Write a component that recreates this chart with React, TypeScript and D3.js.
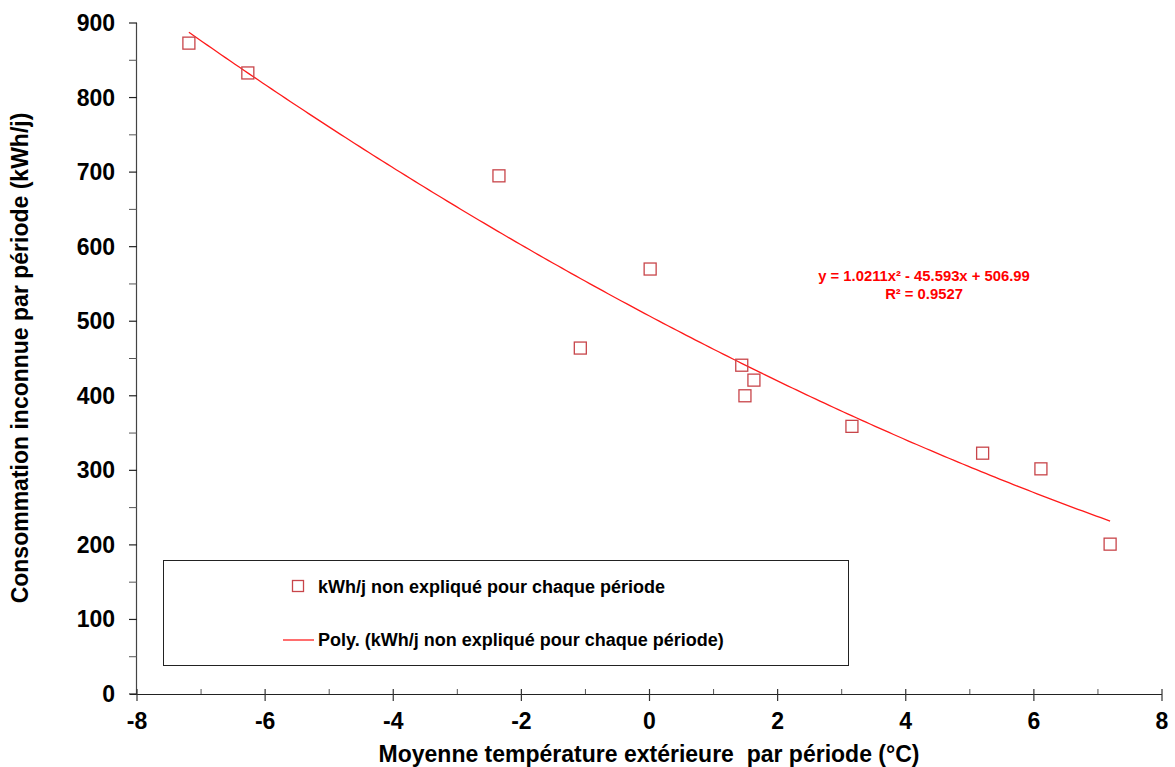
import React from "react";
import * as d3 from "d3";

const tempX = [-7.19, -6.27, -2.35, -1.08, 0.01, 1.44, 1.49, 1.63, 3.16, 5.2, 6.11, 7.19];
const consoY = [873, 833, 695, 464, 570, 441, 400, 421, 359, 323, 302, 201];
const xTicks = [-8, -6, -4, -2, 0, 2, 4, 6, 8];
const xMinor = [-7, -5, -3, -1, 1, 3, 5, 7];
const yTicks = [0, 100, 200, 300, 400, 500, 600, 700, 800, 900];
const yMinor = [50, 150, 250, 350, 450, 550, 650, 750, 850];
const coef = [1.0211, -45.593, 506.99];

const W = 1175, H = 767;
const FONT = "Liberation Sans, Arial, Helvetica, sans-serif";

export default function App() {
  const x = d3.scaleLinear().domain([-8, 8]).range([137, 1162]);
  const y = d3.scaleLinear().domain([0, 900]).range([694, 23]);
  const xMin = d3.min(tempX)!, xMax = d3.max(tempX)!;
  const curvePts: [number, number][] = d3.range(0, 201).map((i) => {
    const t = xMin + ((xMax - xMin) * i) / 200;
    return [t, coef[0] * t * t + coef[1] * t + coef[2]];
  });
  const line = d3.line<[number, number]>().x((d) => x(d[0])).y((d) => y(d[1]));
  const sq = 12;
  const mk = "#c8454a";
  return (
    <svg width={W} height={H} style={{ position: "absolute", left: 0, top: 0, background: "#fff" }} fontFamily={FONT}>
      <rect x={0} y={0} width={W} height={H} fill="#fff" />
      {/* legend box */}
      <rect x={163.5} y={560.5} width={685} height={105} fill="#fff" stroke="#222" strokeWidth={1} />
      <rect x={292.5} y={580.5} width={11} height={11} fill="#fff" stroke={mk} strokeWidth={1.3} />
      <text x={318} y={593} fontSize={18} fontWeight="bold" fill="#000">kWh/j non expliqué pour chaque période</text>
      <line x1={283} x2={314} y1={640} y2={640} stroke="#ff2020" strokeWidth={1.3} />
      <text x={318} y={646} fontSize={18} fontWeight="bold" fill="#000">Poly. (kWh/j non expliqué pour chaque période)</text>
      {/* axes */}
      <line x1={136.5} x2={136.5} y1={23} y2={694} stroke="#444" strokeWidth={1.2} />
      <line x1={130} x2={1162} y1={694.5} y2={694.5} stroke="#222" strokeWidth={1.2} />
      {yTicks.map((t) => (
        <g key={"y" + t}>
          <line x1={129} x2={137} y1={y(t)} y2={y(t)} stroke="#222" strokeWidth={1.2} />
          <text x={115} y={y(t) + 8} fontSize={23} fontWeight="bold" textAnchor="end" fill="#000">{t}</text>
        </g>
      ))}
      {yMinor.map((t) => (
        <line key={"ym" + t} x1={129} x2={137} y1={y(t)} y2={y(t)} stroke="#555" strokeWidth={1} />
      ))}
      {xTicks.map((t) => (
        <g key={"x" + t}>
          <line x1={x(t)} x2={x(t)} y1={689} y2={701} stroke="#333" strokeWidth={1.2} />
          <text x={x(t)} y={729} fontSize={23} fontWeight="bold" textAnchor="middle" fill="#000">{t}</text>
        </g>
      ))}
      {xMinor.map((t) => (
        <line key={"xm" + t} x1={x(t)} x2={x(t)} y1={689} y2={694} stroke="#555" strokeWidth={1} />
      ))}
      {/* trend line */}
      <path d={line(curvePts)!} fill="none" stroke="#ff1a1a" strokeWidth={1.3} />
      {/* markers */}
      {tempX.map((t, i) => (
        <rect key={"p" + i} x={x(t) - sq / 2} y={y(consoY[i]) - sq / 2} width={sq} height={sq} fill="none" stroke={mk} strokeWidth={1.3} />
      ))}
      {/* equation */}
      <text x={924} y={281} fontSize={14.8} fontWeight="bold" textAnchor="middle" fill="#ff0000">y = 1.0211x² - 45.593x + 506.99</text>
      <text x={924} y={299} fontSize={14.8} fontWeight="bold" textAnchor="middle" fill="#ff0000">R² = 0.9527</text>
      {/* titles */}
      <text x={649} y={762} fontSize={23} fontWeight="bold" textAnchor="middle" fill="#000" style={{ whiteSpace: "pre" }}>Moyenne température extérieure  par période (°C)</text>
      <text transform={`translate(28, 358) rotate(-90)`} fontSize={23} fontWeight="bold" textAnchor="middle" fill="#000">Consommation inconnue par période (kWh/j)</text>
    </svg>
  );
}
